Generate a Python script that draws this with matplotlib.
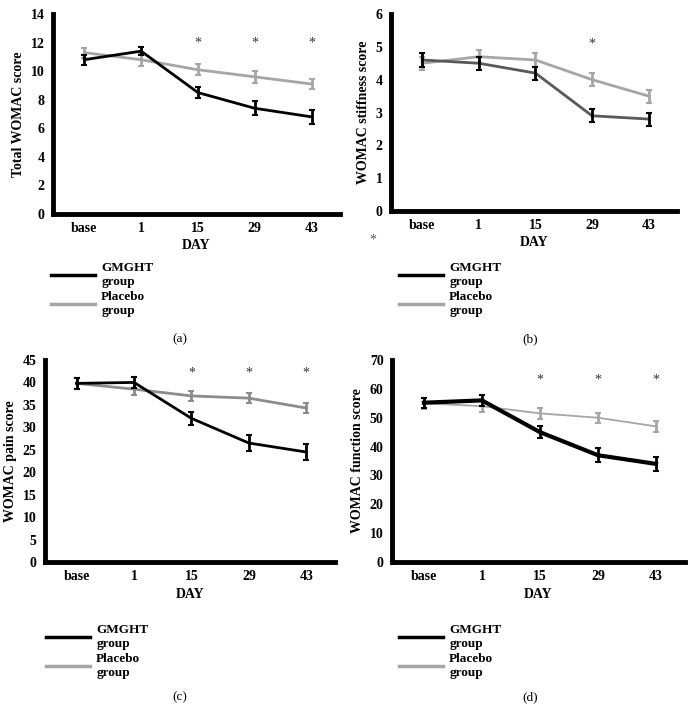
import numpy as np
import matplotlib
matplotlib.use("Agg")
from matplotlib import pyplot as plt
from matplotlib.lines import Line2D

plt.rcParams['font.family'] = ['Liberation Serif', 'DejaVu Serif']

days = ['base', '1', '15', '29', '43']

# (a) total WOMAC
total_gm = [10.8, 11.4, 8.5, 7.4, 6.8]
total_gm_err = [0.35, 0.3, 0.4, 0.5, 0.5]
total_pl = [11.3, 10.8, 10.1, 9.6, 9.1]
total_pl_err = [0.35, 0.45, 0.4, 0.4, 0.35]

# (b) stiffness
stiff_gm = [4.6, 4.5, 4.2, 2.9, 2.8]
stiff_gm_err = [0.2, 0.2, 0.2, 0.2, 0.2]
stiff_pl = [4.5, 4.7, 4.6, 4.0, 3.5]
stiff_pl_err = [0.2, 0.2, 0.2, 0.2, 0.2]

# (c) pain
pain_gm = [39.8, 40.0, 32.0, 26.5, 24.5]
pain_gm_err = [1.2, 1.3, 1.5, 1.7, 1.7]
pain_pl = [39.8, 38.5, 37.0, 36.5, 34.3]
pain_pl_err = [1.3, 1.3, 1.2, 1.1, 1.2]

# (d) function
func_gm = [55.2, 56.0, 45.0, 37.0, 34.0]
func_gm_err = [1.8, 1.8, 2.2, 2.4, 2.4]
func_pl = [55.0, 54.0, 51.5, 50.0, 47.0]
func_pl_err = [2.0, 2.0, 2.0, 1.8, 1.8]

legend_labels = ['GMGHT\ngroup', 'Placebo\ngroup']

W, H = 694, 715
fig = plt.figure(figsize=(W / 100, H / 100), dpi=100)


def px_axes(left, top, right, bottom):
    return fig.add_axes([left / W, 1 - bottom / H, (right - left) / W, (bottom - top) / H])


def panel(ax, gm, gm_err, pl, pl_err, ylabel, ymax, ystep, stars, star_y,
          gm_color, pl_color, gm_lw, pl_lw):
    x = np.arange(len(days))
    ax.plot(x, pl, color=pl_color, lw=pl_lw, zorder=2)
    ax.errorbar(x, pl, yerr=pl_err, fmt='none', ecolor=pl_color, elinewidth=2,
                capsize=2.5, capthick=1.5, zorder=2)
    ax.plot(x, gm, color=gm_color, lw=gm_lw, zorder=3)
    ax.errorbar(x, gm, yerr=gm_err, fmt='none', ecolor='black', elinewidth=2,
                capsize=2.5, capthick=1.5, zorder=3)
    for i in stars:
        ax.text(i, star_y, '*', ha='center', va='center', fontsize=10, color='#333333')
    ax.set_xlim(-0.55, 4.5)
    ax.set_ylim(0, ymax)
    ax.set_yticks(np.arange(0, ymax + ystep / 2, ystep))
    ax.set_xticks(x)
    ax.set_xticklabels(days)
    for lab in ax.get_xticklabels() + ax.get_yticklabels():
        lab.set_fontweight('bold')
        lab.set_fontsize(10)
    ax.tick_params(length=0, pad=6)
    for s in ['top', 'right']:
        ax.spines[s].set_visible(False)
    for s in ['left', 'bottom']:
        ax.spines[s].set_linewidth(3.5)
    ax.set_xlabel('DAY', fontweight='bold', fontsize=10, labelpad=3)
    ax.set_ylabel(ylabel, fontweight='bold', fontsize=10, labelpad=4)


def legend(x, y, gm_lw=2.5, pl_lw=2.5):
    handles = [Line2D([], [], color='black', lw=gm_lw),
               Line2D([], [], color='#a6a6a6', lw=pl_lw)]
    fig.legend(handles, legend_labels, loc='upper left', bbox_to_anchor=(x / W, 1 - y / H),
               frameon=False, handlelength=3.3, handletextpad=0.5, labelspacing=0.25,
               borderpad=0, borderaxespad=0, prop={'weight': 'bold', 'size': 9.5})


ax_a = px_axes(53, 14, 340, 214)
panel(ax_a, total_gm, total_gm_err, total_pl, total_pl_err, 'Total WOMAC score',
      14, 2, [2, 3, 4], 12.0, 'black', '#a6a6a6', 2.0, 2.0)
legend(51, 262)
fig.text(180 / W, 1 - 339 / H, '(a)', ha='center', va='center', fontsize=9.5)

ax_b = px_axes(391, 14, 677, 211)
panel(ax_b, stiff_gm, stiff_gm_err, stiff_pl, stiff_pl_err, 'WOMAC stiffness score',
      6, 1, [3], 5.1, '#595959', '#a6a6a6', 2.0, 2.0)
legend(399, 262)
fig.text(373 / W, 1 - 240 / H, '*', ha='center', va='center', fontsize=10, color='#555555')
fig.text(530 / W, 1 - 339 / H, '(b)', ha='center', va='center', fontsize=9.5)

ax_c = px_axes(45, 360, 335, 562)
panel(ax_c, pain_gm, pain_gm_err, pain_pl, pain_pl_err, 'WOMAC pain score',
      45, 5, [2, 3, 4], 42, 'black', '#8c8c8c', 2.0, 2.0)
legend(46, 624)
fig.text(180 / W, 1 - 697 / H, '(c)', ha='center', va='center', fontsize=9.5)

ax_d = px_axes(392, 360, 685, 562)
panel(ax_d, func_gm, func_gm_err, func_pl, func_pl_err, 'WOMAC function score',
      70, 10, [2, 3, 4], 63, 'black', '#a6a6a6', 3.0, 1.3)
legend(399, 624)
fig.text(530 / W, 1 - 697 / H, '(d)', ha='center', va='center', fontsize=9.5)

fig.savefig('out.png', dpi=100)
